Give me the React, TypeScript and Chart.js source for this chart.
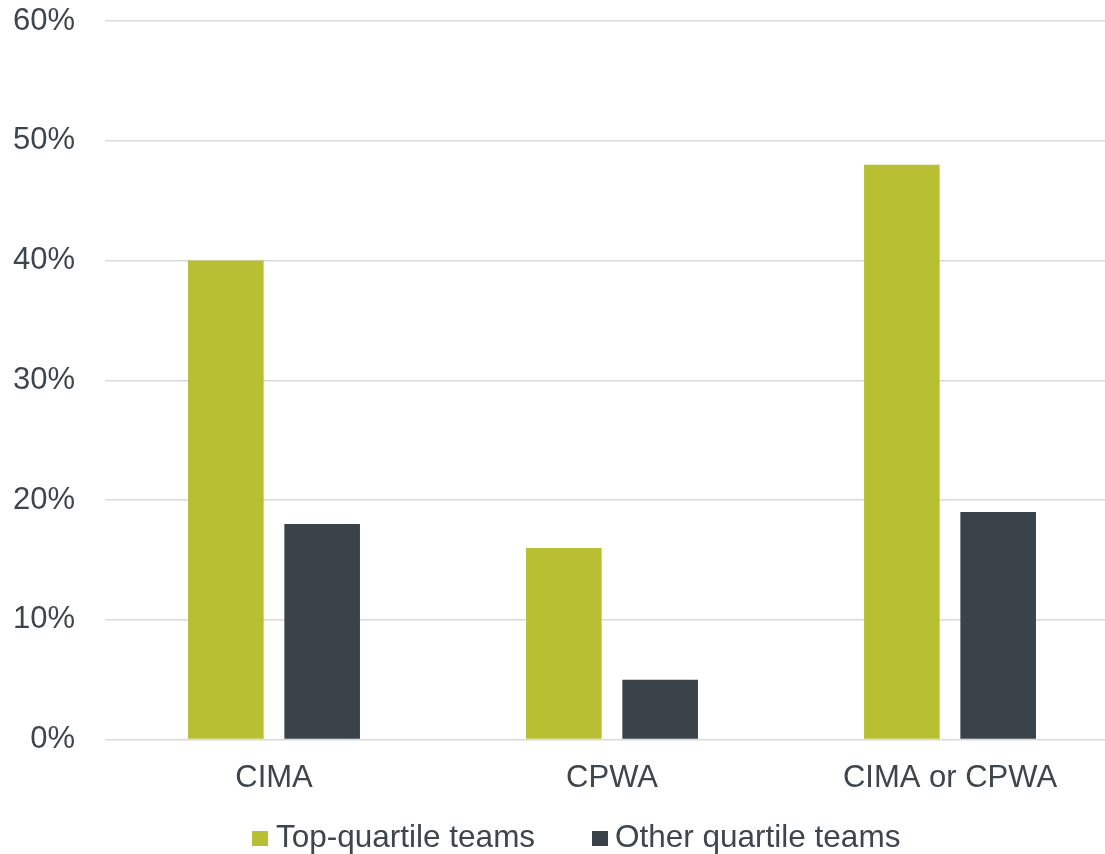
import React, { useEffect, useRef } from "react";
import { Chart, registerables } from "chart.js";

Chart.register(...registerables);

const categories = ["CIMA", "CPWA", "CIMA or CPWA"];
const topQuartile = [40, 16, 48];
const otherQuartile = [18, 5, 19];
const seriesNames = ["Top-quartile teams", "Other quartile teams"];
const seriesColors = ["#b9bf33", "#3b434a"];
const yMin = 0;
const yMax = 60;
const yStep = 10;

const FONT = "'Liberation Sans', Arial, sans-serif";
const TEXT = "#3d454d";

export default function App() {
  const ref = useRef<HTMLCanvasElement | null>(null);

  useEffect(() => {
    if (!ref.current) return;
    const chart = new Chart(ref.current, {
      type: "bar",
      data: {
        labels: categories,
        datasets: [
          {
            label: seriesNames[0],
            data: topQuartile,
            backgroundColor: seriesColors[0],
            categoryPercentage: 0.57,
            barPercentage: 0.785,
          },
          {
            label: seriesNames[1],
            data: otherQuartile,
            backgroundColor: seriesColors[1],
            categoryPercentage: 0.57,
            barPercentage: 0.785,
          },
        ],
      },
      options: {
        responsive: false,
        animation: false,
        layout: { padding: { top: 21, left: 0, right: 0, bottom: 0 } },
        plugins: {
          legend: { display: false },
          tooltip: { enabled: false },
        },
        scales: {
          x: {
            grid: { display: false, drawTicks: false },
            border: { display: false },
            ticks: {
              color: TEXT,
              font: { family: FONT, size: 31 },
              padding: 20,
              maxRotation: 0,
            },
            afterFit: (s: any) => {
              s.height = 854 - 739.5;
            },
          },
          y: {
            min: yMin,
            max: yMax,
            grid: { color: "#d9d9d9", lineWidth: 1.5, drawTicks: false },
            border: { display: false },
            ticks: {
              stepSize: yStep,
              color: TEXT,
              font: { family: FONT, size: 31 },
              padding: 30,
              callback: (v: any) => v + "%",
            },
            afterFit: (s: any) => {
              s.width = 105;
              s.paddingTop = 0;
              s.paddingBottom = 0;
            },
          },
        },
      },
    });
    return () => chart.destroy();
  }, []);

  const legendText: React.CSSProperties = {
    position: "absolute",
    top: 820,
    fontFamily: FONT,
    fontSize: 31.5,
    lineHeight: "32px",
    color: TEXT,
    whiteSpace: "nowrap",
  };
  const sq = (c: string, left: number): React.CSSProperties => ({
    position: "absolute",
    top: 831,
    left,
    width: 16,
    height: 15,
    background: c,
  });

  return (
    <div
      style={{
        position: "fixed",
        left: 0,
        top: 0,
        width: 1105,
        height: 854,
        overflow: "hidden",
        background: "#ffffff",
      }}
    >
      <canvas
        ref={ref}
        width={1119}
        height={854}
        style={{ position: "absolute", left: 0, top: 0, width: 1119, height: 854 }}
      />
      <div style={sq(seriesColors[0], 252)} />
      <div style={{ ...legendText, left: 276 }}>{seriesNames[0]}</div>
      <div style={sq(seriesColors[1], 592)} />
      <div style={{ ...legendText, left: 615 }}>{seriesNames[1]}</div>
    </div>
  );
}
